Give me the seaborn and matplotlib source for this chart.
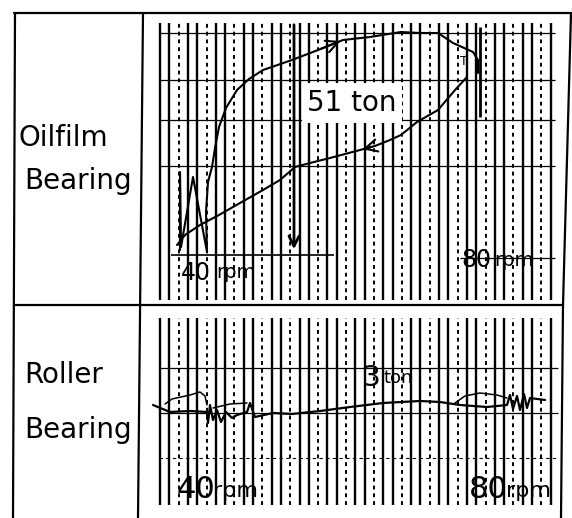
import numpy as np
import pandas as pd
import matplotlib
matplotlib.use("Agg")
import matplotlib.pyplot as plt
from matplotlib.lines import Line2D
import seaborn as sns

# ── Style ──────────────────────────────────────────────
sns.set_style("white")
plt.rcParams["font.family"] = ["DejaVu Sans"]
plt.rcParams["text.color"] = "black"
W, H = 572, 518

# ── Data (recorder paper units: 1 unit = 1 mm of chart) ──
# Oilfilm bearing, run-up trace (start-up spike, then rise to full load)
oil_up_x = [3.0, 3.0, 3.1, 4.3, 5.7, 5.6, 5.8, 6.2, 6.5, 6.9, 7.6, 8.7, 9.9, 11.3,
            14.2, 16.8, 19.3, 22.0, 25.1, 27.0, 28.8, 30.3, 32.3, 32.8, 32.8]
oil_up_y = [5.2, 13.0, 5.5, 12.5, 5.0, 9.0, 12.0, 13.5, 15.4, 17.5, 19.4, 21.2, 22.3, 23.2,
            24.2, 25.2, 26.2, 26.5, 27.0, 26.9, 26.9, 25.9, 25.0, 24.2, 22.9]
# Oilfilm bearing, run-down trace
oil_down_x = [31.7, 30.5, 28.8, 26.7, 25.1, 24.0, 22.5, 21.0, 19.5, 18.0, 16.0,
              14.5, 13.0, 11.3, 9.0, 6.9, 5.0, 3.5, 2.7]
oil_down_y = [22.5, 21.2, 19.2, 18.0, 16.7, 16.2, 15.6, 15.2, 14.8, 14.4, 13.9,
              13.5, 12.2, 11.2, 9.9, 8.7, 7.7, 6.7, 5.7]

# Roller bearing, main trace
roll_x = [0.3, 2.0, 4.0, 5.7, 5.8, 6.0, 6.3, 6.7, 7.1, 7.6, 8.2, 8.7, 9.7, 10.0,
          10.5, 12.3, 14.2, 17.0, 20.0, 23.3, 27.0, 29.0, 31.0, 33.7, 35.7,
          36.0, 36.3, 36.7, 37.0, 37.4, 37.7, 38.0, 39.5]
roll_y = [11.3, 10.6, 10.7, 10.6, 9.5, 11.3, 9.8, 10.8, 9.6, 10.6, 10.0, 10.3, 10.6, 11.5,
          10.1, 10.5, 10.4, 10.7, 11.1, 11.5, 11.7, 11.6, 11.3, 11.1, 11.3,
          12.3, 10.9, 12.2, 10.8, 12.4, 11.0, 12.0, 11.8]
# Roller bearing, upper envelope bumps
roll_env1_x = [1.5, 2.2, 4.0, 5.0, 5.5, 5.7]
roll_env1_y = [11.4, 11.9, 12.3, 12.6, 12.2, 11.3]
roll_env2_x = [6.3, 8.0, 9.7]
roll_env2_y = [11.0, 11.4, 11.5]
roll_env3_x = [30.5, 31.5, 33.0, 34.7, 35.7]
roll_env3_y = [11.5, 12.2, 12.5, 12.3, 12.0]

# Recorder paper rulings (horizontal lines)
top_hlines = [26.9, 22.2, 18.2, 13.6]
bot_hlines = [15.0, 10.5]
bot_hlines_dashed = [6.0]

# ── Figure ─────────────────────────────────────────────
fig = plt.figure(figsize=(W / 100, H / 100), dpi=100)
fig.patch.set_facecolor("white")


def fig_xy(px, py):
    return px / W, 1 - py / H


# table frame
frame = [((14, 13), (571, 13)), ((15, 13), (13, 518)), ((143, 13), (138, 518)),
         ((571, 13), (563, 305)), ((563, 305), (561, 518)), ((14, 305), (563, 305))]
for (x0, y0), (x1, y1) in frame:
    a, b = fig_xy(x0, y0)
    c, d = fig_xy(x1, y1)
    fig.add_artist(Line2D([a, c], [b, d], color="black", lw=1.6,
                          transform=fig.transFigure))

# row labels
for txt, px, py in [("Oilfilm", 18, 138), ("Bearing", 24, 181),
                    ("Roller", 24, 375), ("Bearing", 24, 430)]:
    x, y = fig_xy(px, py)
    fig.text(x, y, txt, fontsize=20, ha="left", va="center", color="black")

ax1 = fig.add_axes([150 / W, (H - 302) / H, 410 / W, 282 / H])
ax2 = fig.add_axes([150 / W, 0, 410 / W, 212 / H])


def rulings(ax, y0, y1):
    xs = np.arange(1.0, 40.6, 0.93)
    solid = [x for i, x in enumerate(xs) if i % 3 != 2]
    dashed = [x for i, x in enumerate(xs) if i % 3 == 2]
    ax.vlines(solid, y0, y1, color="black", lw=1.7, zorder=1)
    ax.vlines(dashed, y0, y1, color="black", lw=1.4, linestyles=(0, (2, 2)), zorder=1)


# top panel: oilfilm bearing
ax = ax1
ax.set_xlim(0, 41)
ax.set_ylim(0, 28.2)
ax.axis("off")
rulings(ax, 0.2, 27.9)
ax.hlines(top_hlines, 0.9, 40.5, color="black", lw=0.9, zorder=1)
ax.hlines(4.7, 2.1, 18.4, color="black", lw=1.2, zorder=1)
ax.hlines(4.4, 31.0, 40.5, color="black", lw=0.9, zorder=1)

sns.lineplot(x=oil_up_x, y=oil_up_y, sort=False, estimator=None, color="black",
             lw=1.5, ax=ax, zorder=4)
sns.lineplot(x=oil_down_x, y=oil_down_y, sort=False, estimator=None, color="black",
             lw=1.5, ax=ax, zorder=4)
# direction arrows on the traces
ax.annotate("", xy=(oil_up_x[16], oil_up_y[16]), xytext=(oil_up_x[15], oil_up_y[15]),
            arrowprops=dict(arrowstyle="->", lw=1.5, mutation_scale=22, color="black"),
            zorder=5)
ax.annotate("", xy=(oil_down_x[7], oil_down_y[7]), xytext=(oil_down_x[6], oil_down_y[6]),
            arrowprops=dict(arrowstyle="->", lw=1.5, mutation_scale=22, color="black"),
            zorder=5)
# load scale arrow and end marker
ax.annotate("", xy=(14.4, 5.0), xytext=(14.4, 28.0),
            arrowprops=dict(arrowstyle="->", lw=2.0, mutation_scale=18, color="black"),
            zorder=5)
ax.vlines(33.0, 18.5, 27.5, color="black", lw=2.0, zorder=4)
ax.text(31.4, 24.0, "T", fontsize=9, ha="center", va="center", zorder=5)

ax.text(20.2, 19.9, "51 ton", fontsize=20, ha="center", va="center", zorder=3,
        bbox=dict(fc="white", ec="none", pad=4))
ax.text(4.6, 2.9, "40", fontsize=17, ha="center", va="center", zorder=3)
ax.text(6.6, 2.9, "rpm", fontsize=14, ha="left", va="center", zorder=3)
ax.text(32.6, 4.2, "80", fontsize=17, ha="center", va="center", zorder=3)
ax.text(34.4, 4.2, "rpm", fontsize=14, ha="left", va="center", zorder=3)

# bottom panel: roller bearing
ax = ax2
ax.set_xlim(0, 41)
ax.set_ylim(0, 21.2)
ax.axis("off")
rulings(ax, 1.3, 20.0)
ax.hlines(bot_hlines, 0.9, 40.8, color="black", lw=0.9, zorder=1)
ax.hlines(bot_hlines_dashed, 0.9, 40.8, color="black", lw=0.8,
          linestyles=(0, (3, 3)), zorder=1)

sns.lineplot(x=roll_x, y=roll_y, sort=False, estimator=None, color="black",
             lw=1.6, ax=ax, zorder=4)
for ex, ey in [(roll_env1_x, roll_env1_y), (roll_env2_x, roll_env2_y),
               (roll_env3_x, roll_env3_y)]:
    sns.lineplot(x=ex, y=ey, sort=False, estimator=None, color="black",
                 lw=1.1, ax=ax, zorder=4)

ax.text(22.2, 14.0, "3", fontsize=20, ha="center", va="center", zorder=3)
ax.text(23.3, 14.0, "ton", fontsize=13, ha="left", va="center", zorder=3)
ax.text(4.6, 2.9, "40", fontsize=22, ha="center", va="center", zorder=3)
ax.text(6.3, 2.7, "rpm", fontsize=16, ha="left", va="center", zorder=3)
ax.text(33.8, 2.9, "80", fontsize=22, ha="center", va="center", zorder=3)
ax.text(35.6, 2.7, "rpm", fontsize=16, ha="left", va="center", zorder=3)

fig.savefig("out.png", dpi=100, facecolor="white")
